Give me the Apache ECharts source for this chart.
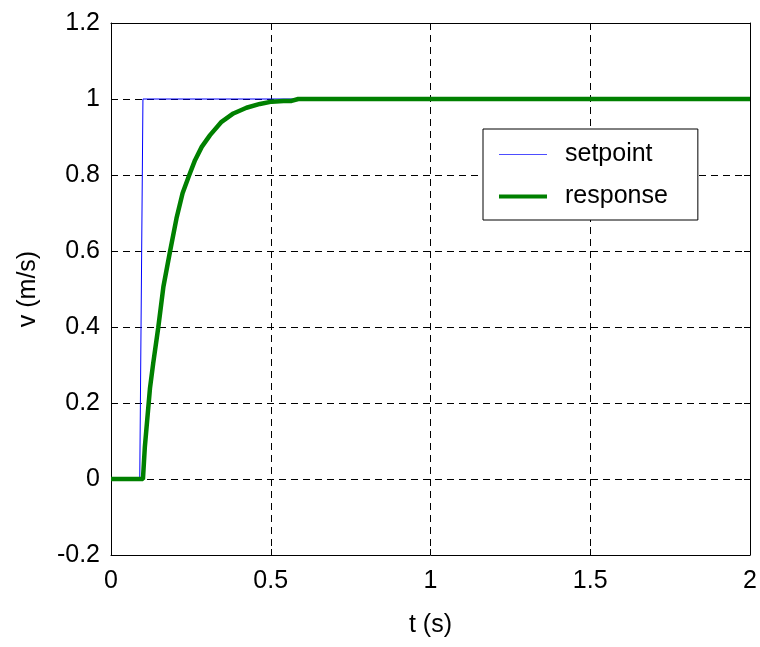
<!DOCTYPE html>
<html><head><meta charset="utf-8">
<script src="https://cdn.jsdelivr.net/npm/echarts@6/dist/echarts.min.js"></script>
<style>html,body{margin:0;padding:0;background:#fff}#c{width:760px;height:647px}</style>
</head><body><div id="c"></div>
<script>
const setT = [0, 0.09, 0.1, 2];
const setV = [0, 0, 1, 1];
const respT = [0, 0.1, 0.106, 0.122, 0.132, 0.148, 0.164, 0.185, 0.205, 0.224, 0.245, 0.263, 0.284, 0.31, 0.346, 0.383, 0.424, 0.466, 0.503, 0.54, 0.565, 0.586, 2];
const respV = [0, 0, 0.085, 0.239, 0.304, 0.399, 0.506, 0.6, 0.686, 0.752, 0.8, 0.839, 0.874, 0.905, 0.94, 0.962, 0.977, 0.987, 0.993, 0.995, 0.995, 1.0, 1.0];
const seriesNames = ['setpoint', 'response'];
const xLabel = 't (s)', yLabel = 'v (m/s)';

const FONT = "'Liberation Sans', Arial, sans-serif";
const FS = 25;
const chart = echarts.init(document.getElementById('c'));
const grid = {left: 111, right: 10, top: 23, bottom: 92};
const tickStyle = {show: true, inside: true, length: 6, lineStyle: {color: '#000', width: 1}};
const split = {show: true, lineStyle: {color: '#000', type: [7, 5], width: 1}};
chart.setOption({
  animation: false,
  backgroundColor: '#fff',
  grid: grid,
  xAxis: [
    {type: 'value', min: 0, max: 2, interval: 0.5, position: 'bottom',
     axisLine: {show: true, onZero: false, lineStyle: {color: '#000'}}, axisTick: tickStyle,
     axisLabel: {color: '#000', fontFamily: FONT, fontSize: FS, margin: 14},
     splitLine: split,
     name: xLabel, nameLocation: 'middle', nameGap: 58,
     nameTextStyle: {color: '#000', fontFamily: FONT, fontSize: FS}},
    {type: 'value', min: 0, max: 2, interval: 0.5, position: 'top',
     axisLine: {show: true, onZero: false, lineStyle: {color: '#000'}}, axisTick: tickStyle,
     axisLabel: {show: false}, splitLine: {show: false}}
  ],
  yAxis: [
    {type: 'value', min: -0.2, max: 1.2, interval: 0.2, position: 'left',
     axisLine: {show: true, onZero: false, lineStyle: {color: '#000'}}, axisTick: tickStyle,
     axisLabel: {color: '#000', fontFamily: FONT, fontSize: FS, margin: 11},
     splitLine: split,
     name: yLabel, nameLocation: 'middle', nameGap: 70, nameRotate: 90,
     nameTextStyle: {color: '#000', fontFamily: FONT, fontSize: FS}},
    {type: 'value', min: -0.2, max: 1.2, interval: 0.2, position: 'right',
     axisLine: {show: true, onZero: false, lineStyle: {color: '#000'}}, axisTick: tickStyle,
     axisLabel: {show: false}, splitLine: {show: false}}
  ],
  legend: {
    orient: 'vertical', left: 483, top: 129,
    data: [
      {name: seriesNames[0], icon: 'path://M0,0H48V1H0Z', itemStyle: {color: '#4d4dff', borderWidth: 0}},
      {name: seriesNames[1], icon: 'path://M0,0H48V4H0Z', itemStyle: {color: '#008000', borderWidth: 0}}
    ],
    backgroundColor: '#fff', borderColor: '#000', borderWidth: 1,
    padding: [13, 30, 11, 16], itemGap: 17, itemWidth: 48, itemHeight: 14,
    textStyle: {color: '#000', fontFamily: FONT, fontSize: FS, padding: [0, 0, 0, 13]}
  },
  series: [
    {name: seriesNames[0], type: 'line', xAxisIndex: 0, yAxisIndex: 0, showSymbol: false, symbol: 'none', symbolKeepAspect: true,
     data: setT.map((t, i) => [t, setV[i]]), lineStyle: {color: '#0000ff', width: 1}, itemStyle: {color: '#4d4dff'}, z: 3},
    {name: seriesNames[1], type: 'line', xAxisIndex: 0, yAxisIndex: 0, showSymbol: false, symbol: 'none', symbolKeepAspect: true,
     data: respT.map((t, i) => [t, respV[i]]), lineStyle: {color: '#008000', width: 4.5}, itemStyle: {color: '#008000'}, z: 4}
  ]
});
</script></body></html>
